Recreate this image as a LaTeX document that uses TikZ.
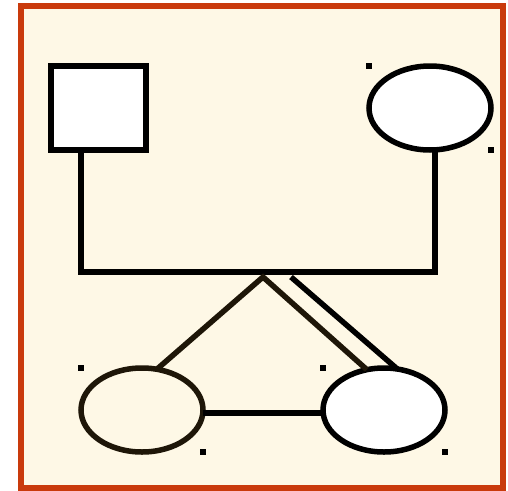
\documentclass[tikz,border=0pt]{standalone}
\usetikzlibrary{positioning}
\usetikzlibrary{shapes.geometric}

\definecolor{framered}{HTML}{C93A0C}
\definecolor{cream}{HTML}{FEF8E6}
\definecolor{darkbrown}{HTML}{1E1608}

\begin{document}
\begin{tikzpicture}[%
    x=1pt, y=-1pt,
    line width=5.5pt,
    frame/.style={draw=framered, fill=cream, line width=5.5pt},
    malenode/.style={rectangle, draw=black, fill=white, outer sep=0pt, minimum width=95pt, minimum height=84pt},
    femalenode/.style={ellipse, draw=black, fill=white, outer sep=0pt, minimum width=122pt, minimum height=84pt},
    childnode/.style={ellipse, draw=darkbrown, fill=cream, outer sep=0pt, minimum width=122pt, minimum height=84pt},
    cornerdot/.style={rectangle, fill=black, inner sep=0pt, minimum width=6pt, minimum height=6pt},
    link/.style={draw=black},
    kidlink/.style={draw=darkbrown}
]
\useasboundingbox (0,0) rectangle (508,490);
\draw[frame] (21,6) rectangle (503,488);

% Parent Nodes
\node[malenode]      (father)     at (98.5,108) {};
\node[femalenode]    (mother)     [right=223pt of father] {};

% Child Nodes
\node[childnode]     (daughter)   at (142,410) {};
\node[femalenode]    (twin)       [right=120pt of daughter] {};

% Corner Dots
\node[cornerdot]     (motherdotA)   at (mother.west |- mother.north) {};
\node[cornerdot]     (motherdotB)   at (mother.east |- mother.south) {};
\node[cornerdot]     (daughterdotA) at (daughter.west |- daughter.north) {};
\node[cornerdot]     (daughterdotB) at (daughter.east |- daughter.south) {};
\node[cornerdot]     (twindotA)     at (twin.west |- twin.north) {};
\node[cornerdot]     (twindotB)     at (twin.east |- twin.south) {};

% Marriage Line
\coordinate (marryleft)  at (81,272);
\coordinate (marryright) at (435,272);
\draw[link] (father.south -| marryleft) -- (marryleft) -- (marryright) -- (mother.south -| marryright);

% Child Lines
\coordinate (apex)  at (263,277);
\coordinate (apexb) at (291,277);
\draw[kidlink] (daughter.70) -- (apex) -- (twin.113);
\draw[link] (apexb) -- (twin.72);
\draw[link] ([yshift=-3pt]daughter.east) -- ([yshift=-3pt]twin.west);

\end{tikzpicture}
\end{document}
